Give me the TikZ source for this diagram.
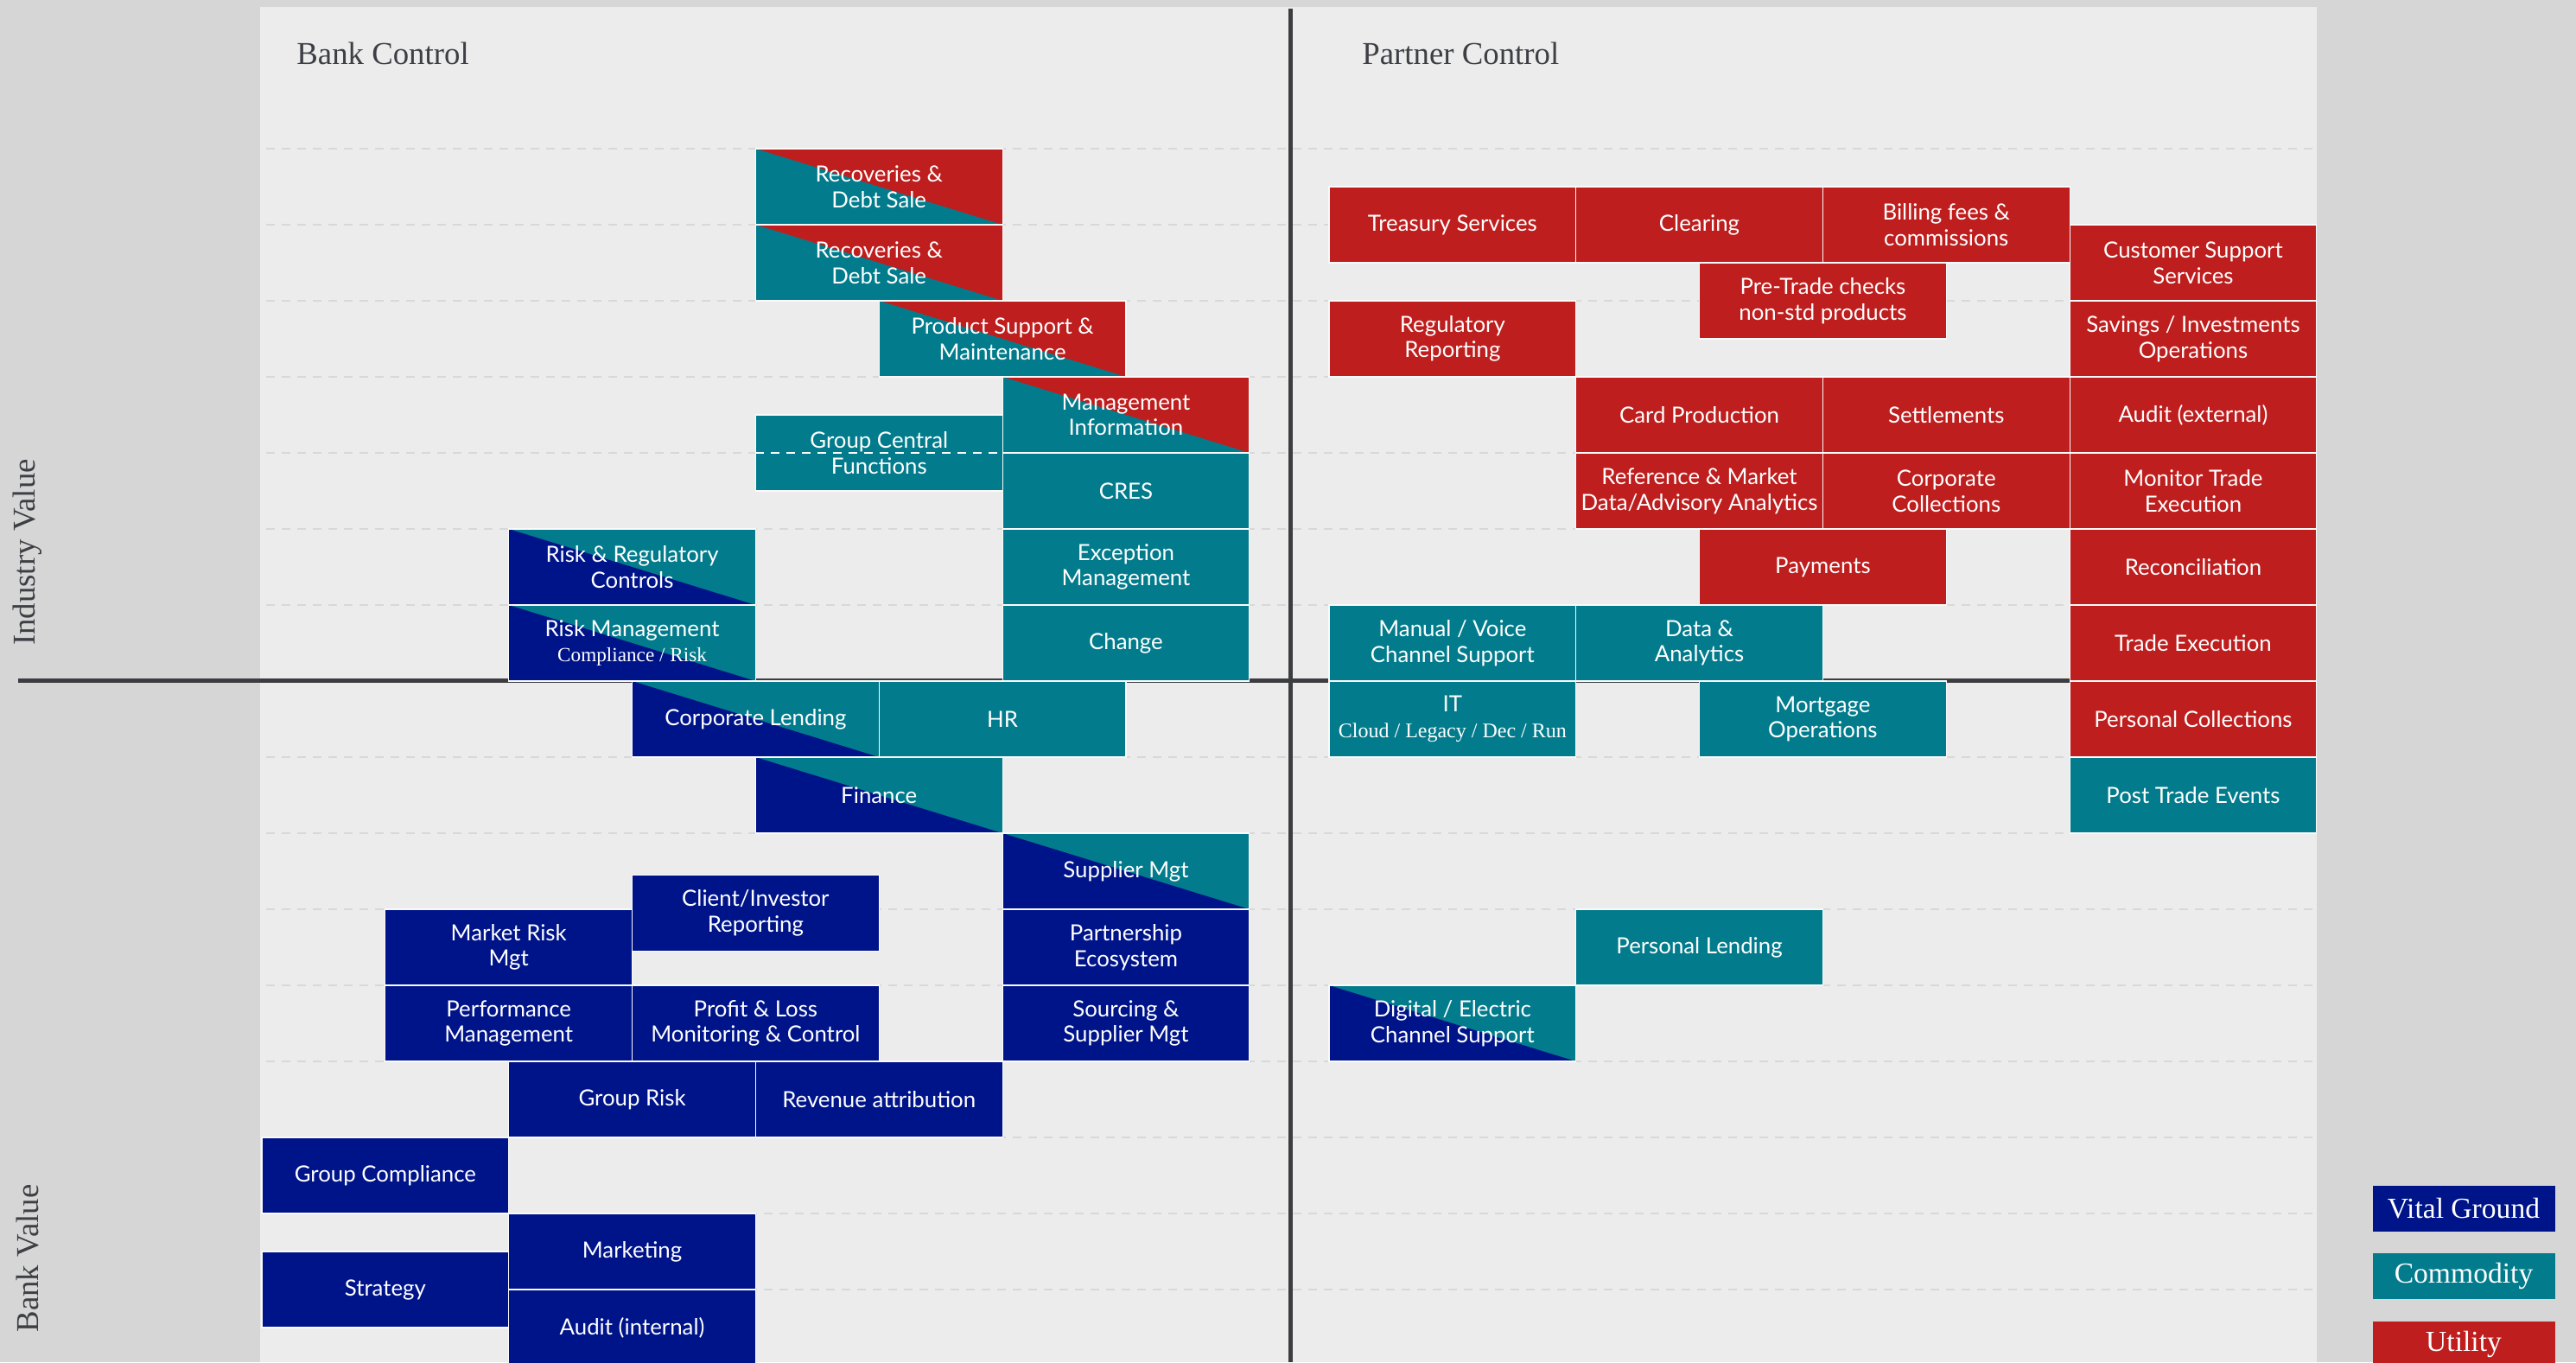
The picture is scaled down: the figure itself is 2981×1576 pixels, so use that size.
\documentclass[tikz,border=0pt]{standalone}
\usepackage{fontspec}
\setmainfont{Liberation Serif}
\newfontfamily\boxfont{Lato}
\definecolor{vitalblue}{HTML}{00148A}
\definecolor{commteal}{HTML}{027C8C}
\definecolor{utilred}{HTML}{BE1E1E}
\definecolor{panelgrey}{HTML}{ECECEC}
\definecolor{outergrey}{HTML}{D6D6D6}
\definecolor{axisgrey}{HTML}{3C3D40}
\definecolor{gridgrey}{HTML}{D8D8D8}
\definecolor{titleink}{HTML}{3D3F45}

\begin{document}
\begin{tikzpicture}[x=0.5pt, y=-0.5pt,
  fnbox/.style={rectangle, draw=white!75!panelgrey, line width=0.6pt, inner sep=1pt,
    minimum width=142.85pt, minimum height=44pt, text=white, align=center,
    font=\boxfont\fontsize{12.9}{14.8}\selectfont},
  vgbox/.style={fnbox, fill=vitalblue},
  cmbox/.style={fnbox, fill=commteal},
  utbox/.style={fnbox, fill=utilred},
  % lower-left triangle #1, upper-right #2
  halfbox/.style 2 args={fnbox, fill=#2, path picture={
    \fill[#1] (path picture bounding box.north west) -- (path picture bounding box.south east)
      -- (path picture bounding box.south west) -- cycle;}},
  quadlabel/.style={text=titleink, font=\fontsize{18.4}{22}\selectfont, inner sep=0pt},
  keybox/.style={text=white, minimum width=105.5pt, minimum height=26.5pt, inner sep=0pt,
    font=\fontsize{16.8}{20}\selectfont}]
  \useasboundingbox (0,0) rectangle (2981,1576);
  \clip (0,0) rectangle (2981,1576);
  \fill[outergrey] (0,0) rectangle (2981,1576);
  \fill[panelgrey] (301,8) rectangle (2681,1576);

  % dashed rows, one every 88px
  \foreach \r in {0,...,6,8,9,...,15}
    \draw[gridgrey, line width=1pt, dash pattern=on 5pt off 4pt]
      (308,{172+88*\r}) -- (2681,{172+88*\r});

  % axes
  \coordinate (xl) at (21,787);
  \coordinate (xr) at (2681,787);
  \coordinate (yt) at (1493,10);
  \coordinate (yb) at (1493,1576);
  \draw[axisgrey, line width=2.5pt] (xl) -- (xr);
  \draw[axisgrey, line width=2.5pt] (yt) -- (yb);

  \node[quadlabel, anchor=base west] (bankctl) at (343,74) {Bank Control};
  \node[quadlabel, anchor=base west] (partctl) at (1576,74) {Partner Control};
  \node[quadlabel, rotate=90] (indval) at (32,639) {Industry Value};
  \node[quadlabel, rotate=90] (bankval) at (32,1456) {Bank Value};

  % bank side: one unit = one box
  \begin{scope}[shift={(303,172)}, x=142.85pt, y=-44pt]
    \node[halfbox={commteal}{utilred}] (recov1) at (2.5,0.5) {Recoveries \&\\Debt Sale};
    \node[halfbox={commteal}{utilred}] (recov2) at (2.5,1.5) {Recoveries \&\\Debt Sale};
    \node[halfbox={commteal}{utilred}] (prodsup) at (3,2.5) {Product Support \&\\Maintenance};
    \node[halfbox={commteal}{utilred}] (mgmtinfo) at (3.5,3.5) {Management\\Information};
    \node[cmbox] (grpcentral) at (2.5,4) {Group Central\\Functions};
    \node[cmbox] (cres) at (3.5,4.5) {CRES};
    \node[cmbox] (exception) at (3.5,5.5) {Exception\\Management};
    \node[cmbox] (change) at (3.5,6.5) {Change};
    \node[halfbox={vitalblue}{commteal}] (riskreg) at (1.5,5.5) {Risk \& Regulatory\\Controls};
    \node[halfbox={vitalblue}{commteal}] (riskmgmt) at (1.5,6.5)
      {Risk Management\\{\rmfamily\fontsize{11.6}{15}\selectfont Compliance / Risk}};
    \node[halfbox={vitalblue}{commteal}] (corplend) at (2,7.5) {Corporate Lending};
    \node[cmbox] (hr) at (3,7.5) {HR};
    \node[halfbox={vitalblue}{commteal}] (finance) at (2.5,8.5) {Finance};
    \node[halfbox={vitalblue}{commteal}] (suppmgt) at (3.5,9.5) {Supplier Mgt};
    \node[vgbox] (clientinv) at (2,10.05) {Client/Investor\\Reporting};
    \node[vgbox] (mktrisk) at (1,10.5) {Market Risk\\Mgt};
    \node[vgbox] (partnereco) at (3.5,10.5) {Partnership\\Ecosystem};
    \node[vgbox] (perfmgmt) at (1,11.5) {Performance\\Management};
    \node[vgbox] (pnl) at (2,11.5) {Profit \& Loss\\Monitoring \& Control};
    \node[vgbox] (sourcing) at (3.5,11.5) {Sourcing \&\\Supplier Mgt};
    \node[vgbox] (grprisk) at (1.5,12.5) {Group Risk};
    \node[vgbox] (revenue) at (2.5,12.5) {Revenue attribution};
    \node[vgbox] (grpcomp) at (0.5,13.5) {Group Compliance};
    \node[vgbox] (marketing) at (1.5,14.5) {Marketing};
    \node[vgbox] (strategy) at (0.5,15) {Strategy};
    \node[vgbox] (auditint) at (1.5,15.5) {Audit (internal)};
  \end{scope}
  % grid line left showing through this one box
  \draw[white, line width=1pt, dash pattern=on 5pt off 4pt] (grpcentral.west) -- (grpcentral.east);

  % partner side
  \begin{scope}[shift={(1538,172)}, x=142.85pt, y=-44pt]
    \node[utbox] (treasury) at (0.5,1) {Treasury Services};
    \node[utbox] (clearing) at (1.5,1) {Clearing};
    \node[utbox] (billing) at (2.5,1) {Billing fees \&\\commissions};
    \node[utbox] (custsupp) at (3.5,1.5) {Customer Support\\Services};
    \node[utbox] (pretrade) at (2,2) {Pre-Trade checks\\non-std products};
    \node[utbox] (regrep) at (0.5,2.5) {Regulatory\\Reporting};
    \node[utbox] (savings) at (3.5,2.5) {Savings / Investments\\Operations};
    \node[utbox] (cardprod) at (1.5,3.5) {Card Production};
    \node[utbox] (settle) at (2.5,3.5) {Settlements};
    \node[utbox] (auditext) at (3.5,3.5) {Audit (external)};
    \node[utbox] (refdata) at (1.5,4.5) {Reference \& Market\\Data/Advisory Analytics};
    \node[utbox] (corpcoll) at (2.5,4.5) {Corporate\\Collections};
    \node[utbox] (monitor) at (3.5,4.5) {Monitor Trade\\Execution};
    \node[utbox] (payments) at (2,5.5) {Payments};
    \node[utbox] (recon) at (3.5,5.5) {Reconciliation};
    \node[cmbox] (manual) at (0.5,6.5) {Manual / Voice\\Channel Support};
    \node[cmbox] (data) at (1.5,6.5) {Data \&\\Analytics};
    \node[utbox] (tradeexec) at (3.5,6.5) {Trade Execution};
    \node[cmbox] (it) at (0.5,7.5)
      {IT\\{\rmfamily\fontsize{12}{15}\selectfont Cloud / Legacy / Dec / Run}};
    \node[cmbox] (mortgage) at (2,7.5) {Mortgage\\Operations};
    \node[utbox] (perscoll) at (3.5,7.5) {Personal Collections};
    \node[cmbox] (posttrade) at (3.5,8.5) {Post Trade Events};
    \node[cmbox] (perslend) at (1.5,10.5) {Personal Lending};
    \node[halfbox={vitalblue}{commteal}] (digital) at (0.5,11.5) {Digital / Electric\\Channel Support};
  \end{scope}

  % key
  \node[keybox, fill=vitalblue] (keyvital) at (2851,1398) {Vital Ground};
  \node[keybox, fill=commteal] (keycomm) at (2851,1476) {Commodity};
  \node[keybox, fill=utilred] (keyutil) at (2851,1555) {Utility};
\end{tikzpicture}
\end{document}
